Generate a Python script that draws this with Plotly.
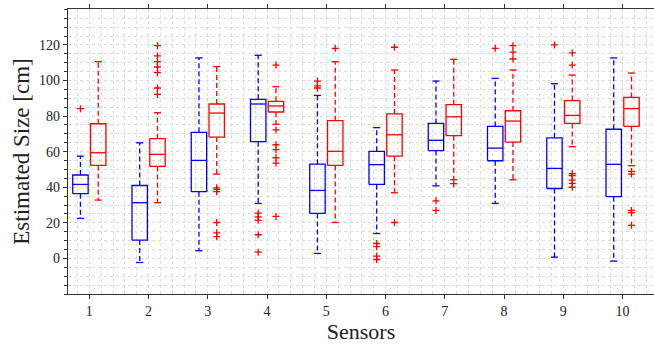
import plotly.graph_objects as go

# Sensor index on the x axis
sensors = [1, 2, 3, 4, 5, 6, 7, 8, 9, 10]
tick_labels = ["1", "2", "3", "4", "5", "6", "7", "8", "9", "10"]

# Estimator A (blue): whisker ends, quartiles, medians, outliers  [cm]
a_low = [22.5, -2.3, 4.3, 30.9, 2.8, 14.0, 40.8, 30.9, 0.7, -1.5]
a_q1 = [36.4, 10.3, 37.5, 65.6, 25.3, 41.6, 60.6, 54.9, 39.3, 34.7]
a_med = [41.6, 31.3, 55.1, 86.8, 38.2, 52.7, 66.4, 62.0, 50.6, 52.9]
a_q3 = [46.9, 41.0, 70.9, 89.4, 53.0, 60.2, 75.9, 74.2, 67.8, 72.6]
a_high = [57.5, 65.0, 112.7, 114.2, 91.6, 73.5, 99.7, 101.2, 98.2, 112.7]
a_out = [
    [84.2],
    [],
    [],
    [25.5, 23.4, 21.4, 13.3, 3.5],
    [99.7, 97.0, 95.8],
    [8.4, 6.6, 1.3, -0.6],
    [32.4, 27.0],
    [118.1],
    [120.0],
    [],
]

# Estimator B (red)
b_low = [32.8, 31.3, 47.4, 75.4, 20.2, 36.9, 44.2, 44.2, 62.8, 52.1]
b_q1 = [52.3, 51.7, 68.2, 82.3, 52.3, 57.5, 69.0, 65.4, 75.9, 74.2]
b_med = [59.4, 58.5, 81.7, 85.7, 60.2, 69.5, 79.6, 77.2, 80.4, 84.2]
b_q3 = [75.7, 67.3, 86.8, 88.3, 77.4, 81.2, 86.4, 83.0, 88.7, 90.5]
b_high = [110.6, 81.9, 107.8, 96.5, 110.6, 105.9, 111.9, 105.9, 103.1, 104.2]
b_out = [
    [],
    [119.6, 113.8, 110.6, 107.6, 104.4, 95.8, 92.2],
    [39.7, 38.8, 37.5, 20.2, 14.4, 12.2],
    [108.7, 72.2, 63.9, 61.1, 56.6, 53.6, 23.6],
    [118.1],
    [118.7, 20.2],
    [42.0],
    [119.6, 116.0, 112.1],
    [115.5, 108.7, 47.6, 46.5, 44.0, 42.2, 40.0],
    [48.9, 47.4, 27.0, 25.7, 18.6],
]

BOX_HALF = 0.13
CAP_HALF = 0.06
OUTLIER_COLOR = "#ff0000"


def box_traces(shift, low, q1, med, q3, high, outliers, color):
    """Build box, median, whisker, cap and outlier traces for one estimator."""
    bx, by, mx, my, wx, wy, cx, cy, ox, oy = ([] for _ in range(10))
    for s, lo, a, m, b, hi, outs in zip(sensors, low, q1, med, q3, high, outliers):
        p = s + shift
        l, r = p - BOX_HALF, p + BOX_HALF
        bx += [l, r, r, l, l, None]
        by += [a, a, b, b, a, None]
        mx += [l, r, None]
        my += [m, m, None]
        wx += [p, p, None, p, p, None]
        wy += [b, hi, None, a, lo, None]
        cx += [p - CAP_HALF, p + CAP_HALF, None, p - CAP_HALF, p + CAP_HALF, None]
        cy += [hi, hi, None, lo, lo, None]
        for o in outs:
            ox.append(p)
            oy.append(o)
    line = dict(color=color, width=1.3)
    return [
        go.Scatter(x=wx, y=wy, mode="lines", line=dict(color=color, width=1.3, dash="5px,3px"),
                   hoverinfo="skip"),
        go.Scatter(x=cx, y=cy, mode="lines", line=line, hoverinfo="skip"),
        go.Scatter(x=bx, y=by, mode="lines", line=line, hoverinfo="skip"),
        go.Scatter(x=mx, y=my, mode="lines", line=line, hoverinfo="skip"),
        go.Scatter(x=ox, y=oy, mode="markers",
                   marker=dict(symbol="cross-thin", size=5,
                               line=dict(color=OUTLIER_COLOR, width=1.3)),
                   hoverinfo="skip"),
    ]


fig = go.Figure()
for t in box_traces(-0.15, a_low, a_q1, a_med, a_q3, a_high, a_out, "#0000ff"):
    fig.add_trace(t)
for t in box_traces(0.15, b_low, b_q1, b_med, b_q3, b_high, b_out, "#ff0000"):
    fig.add_trace(t)

grid_col = "#dcdcdc"
axis_font = dict(family="Liberation Serif", size=14, color="#222222")

fig.update_layout(
    width=654,
    height=345,
    margin=dict(l=68, r=0, t=9, b=51),
    plot_bgcolor="white",
    paper_bgcolor="white",
    showlegend=False,
    font=dict(family="Liberation Serif", color="#222222"),
    xaxis=dict(
        range=[0.64, 10.53],
        tickmode="array",
        tickvals=sensors,
        ticktext=tick_labels,
        ticks="outside",
        ticklen=4,
        tickcolor="#333333",
        tickfont=axis_font,
        showline=True,
        linecolor="#333333",
        linewidth=1.3,
        mirror="ticks",
        showgrid=True,
        gridcolor=grid_col,
        griddash="dot",
        gridwidth=1,
        zeroline=False,
        minor=dict(dtick=0.2, tick0=0, showgrid=True, gridcolor=grid_col,
                   griddash="dot", gridwidth=1, ticks=""),
        title=dict(text="Sensors", font=dict(family="Liberation Serif", size=22),
                   standoff=4),
    ),
    yaxis=dict(
        range=[-20, 140.2],
        tickmode="array",
        tickvals=[0, 20, 40, 60, 80, 100, 120],
        ticks="outside",
        ticklen=4,
        tickcolor="#333333",
        tickfont=axis_font,
        showline=True,
        linecolor="#333333",
        linewidth=1.3,
        mirror=False,
        showgrid=True,
        gridcolor=grid_col,
        griddash="dot",
        gridwidth=1,
        zeroline=False,
        minor=dict(dtick=5, tick0=0, showgrid=True, gridcolor=grid_col,
                   griddash="dot", gridwidth=1, ticks="outside", ticklen=3,
                   tickcolor="#333333"),
        title=dict(text="Estimated Size [cm]",
                   font=dict(family="Liberation Serif", size=23), standoff=2),
    ),
)

fig.write_html("out.html")
